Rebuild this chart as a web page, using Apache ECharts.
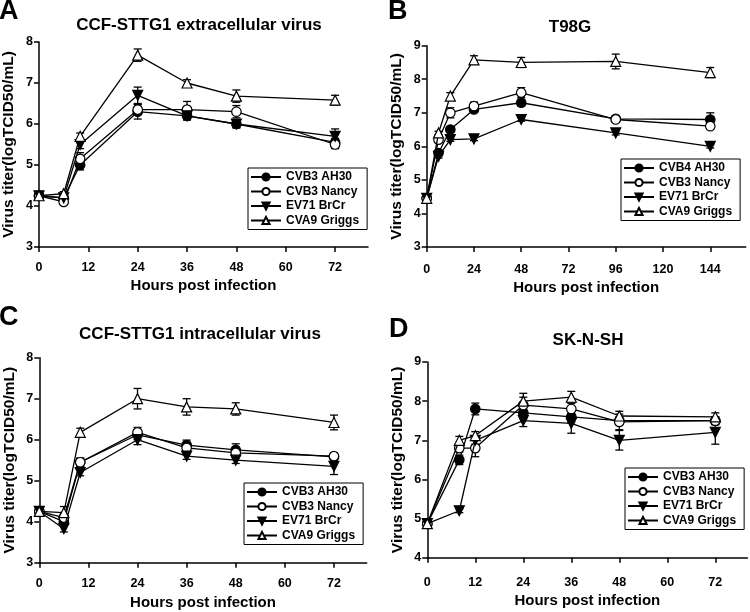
<!DOCTYPE html>
<html><head><meta charset="utf-8">
<script src="https://cdn.jsdelivr.net/npm/echarts@6/dist/echarts.min.js"></script>
<style>html,body{margin:0;padding:0;background:#fff}#c{width:750px;height:612px}</style>
</head><body><div id="c"></div>
<script>
const FONT = '"Liberation Sans", Arial, sans-serif';

// ---------- Panel A: CCF-STTG1 extracellular virus ----------
const hoursA = [0, 6, 10, 24, 36, 48, 72];
const A_AH30 = [4.25, 4.2, 5.0, 6.3, 6.2, 6.0, 5.55];
const A_AH30_sd = [0, 0.05, 0.12, 0.18, 0.1, 0.1, 0.1];
const A_Nancy = [4.25, 4.1, 5.15, 6.35, 6.35, 6.3, 5.5];
const A_Nancy_sd = [0, 0.05, 0.15, 0.12, 0.2, 0.15, 0.1];
const A_EV71 = [4.25, 4.2, 5.5, 6.7, 6.2, 6.0, 5.7];
const A_EV71_sd = [0, 0.05, 0.1, 0.2, 0.1, 0.08, 0.18];
const A_CVA9 = [4.25, 4.3, 5.7, 7.68, 7.0, 6.68, 6.58];
const A_CVA9_sd = [0, 0.05, 0.08, 0.15, 0.08, 0.15, 0.12];

// ---------- Panel B: T98G ----------
const hoursB = [0, 6, 12, 24, 48, 96, 144];
const B_AH30 = [4.45, 5.8, 6.5, 7.1, 7.3, 6.82, 6.8];
const B_AH30_sd = [0, 0.05, 0.08, 0.08, 0.1, 0.08, 0.2];
const B_Nancy = [4.45, 6.2, 7.0, 7.2, 7.6, 6.8, 6.6];
const B_Nancy_sd = [0, 0.08, 0.15, 0.12, 0.15, 0.08, 0.08];
const B_EV71 = [4.45, 5.7, 6.2, 6.22, 6.8, 6.4, 6.0];
const B_EV71_sd = [0, 0.05, 0.05, 0.05, 0.05, 0.06, 0.05];
const B_CVA9 = [4.45, 6.4, 7.5, 8.58, 8.5, 8.53, 8.2];
const B_CVA9_sd = [0, 0.05, 0.1, 0.12, 0.15, 0.22, 0.15];

// ---------- Panel C: CCF-STTG1 intracellular virus ----------
const hoursC = [0, 6, 10, 24, 36, 48, 72];
const C_AH30 = [4.25, 4.0, 5.45, 6.12, 5.87, 5.75, 5.58];
const C_AH30_sd = [0, 0.08, 0.1, 0.12, 0.12, 0.15, 0.05];
const C_Nancy = [4.25, 4.1, 5.45, 6.18, 5.8, 5.68, 5.6];
const C_Nancy_sd = [0, 0.1, 0.1, 0.12, 0.1, 0.1, 0.08];
const C_EV71 = [4.25, 3.83, 5.2, 6.0, 5.6, 5.5, 5.35];
const C_EV71_sd = [0, 0.08, 0.08, 0.12, 0.08, 0.08, 0.2];
const C_CVA9 = [4.25, 4.22, 6.18, 7.0, 6.8, 6.75, 6.42];
const C_CVA9_sd = [0, 0.15, 0.1, 0.25, 0.2, 0.15, 0.18];

// ---------- Panel D: SK-N-SH ----------
const hoursD = [0, 8, 12, 24, 36, 48, 72];
const D_AH30 = [4.87, 6.5, 7.8, 7.7, 7.6, 7.5, 7.5];
const D_AH30_sd = [0, 0.12, 0.15, 0.15, 0.15, 0.1, 0.1];
const D_Nancy = [4.87, 6.8, 6.8, 7.9, 7.8, 7.47, 7.5];
const D_Nancy_sd = [0, 0.1, 0.22, 0.2, 0.15, 0.2, 0.1];
const D_EV71 = [4.87, 5.2, 7.0, 7.5, 7.43, 7.0, 7.2];
const D_EV71_sd = [0, 0.05, 0.1, 0.15, 0.25, 0.25, 0.3];
const D_CVA9 = [4.87, 7.0, 7.12, 8.0, 8.1, 7.62, 7.6];
const D_CVA9_sd = [0, 0.1, 0.1, 0.2, 0.15, 0.12, 0.1];

// labels & ticks
const panelLetters = ['A', 'B', 'C', 'D'];
const panelTitles = ['CCF-STTG1 extracellular virus', 'T98G', 'CCF-STTG1 intracellular virus', 'SK-N-SH'];
const namesA = ['CVB3 AH30', 'CVB3 Nancy', 'EV71 BrCr', 'CVA9 Griggs'];
const namesB = ['CVB4 AH30', 'CVB3 Nancy', 'EV71 BrCr', 'CVA9 Griggs'];
const xTicks72 = [0, 12, 24, 36, 48, 60, 72];
const xTicks144 = [0, 24, 48, 72, 96, 120, 144];
const xAxisName = 'Hours post infection';
const yAxisName = 'Virus titer(logTCID50/mL)';

// marker styles (by series order)
const markerStyles = [
  { symbol: 'circle', size: 9.5, fill: '#000', rotate: 0 },
  { symbol: 'circle', size: 9.5, fill: '#fff', rotate: 0 },
  { symbol: 'triangle', size: 10, fill: '#000', rotate: 180 },
  { symbol: 'triangle', size: 10, fill: '#fff', rotate: 0 }
];

const panels = [
  { hours: hoursA, names: namesA, vals: [A_AH30, A_Nancy, A_EV71, A_CVA9], sds: [A_AH30_sd, A_Nancy_sd, A_EV71_sd, A_CVA9_sd],
    grid: { left: 38.5, top: 42, width: 329.5, height: 205 }, xmax: 80, xTicks: xTicks72, ymin: 3, ymax: 8,
    letter: { left: -1, top: -2 }, title: { left: 199, top: 17 }, legend: { left: 248, top: 168 }, lblMargin: 14, nameGap: 31 },
  { hours: hoursB, names: namesB, vals: [B_AH30, B_Nancy, B_EV71, B_CVA9], sds: [B_AH30_sd, B_Nancy_sd, B_EV71_sd, B_CVA9_sd],
    grid: { left: 426.7, top: 45.7, width: 319, height: 201.3 }, xmax: 162, xTicks: xTicks144, ymin: 3, ymax: 9,
    letter: { left: 388, top: -2 }, title: { left: 570, top: 19 }, legend: { left: 621, top: 159 }, lblMargin: 16, nameGap: 33 },
  { hours: hoursC, names: namesA, vals: [C_AH30, C_Nancy, C_EV71, C_CVA9], sds: [C_AH30_sd, C_Nancy_sd, C_EV71_sd, C_CVA9_sd],
    grid: { left: 39.3, top: 357.7, width: 327.4, height: 205 }, xmax: 80, xTicks: xTicks72, ymin: 3, ymax: 8,
    letter: { left: -1, top: 304 }, title: { left: 200, top: 326 }, legend: { left: 244, top: 483 }, lblMargin: 14, nameGap: 33 },
  { hours: hoursD, names: namesA, vals: [D_AH30, D_Nancy, D_EV71, D_CVA9], sds: [D_AH30_sd, D_Nancy_sd, D_EV71_sd, D_CVA9_sd],
    grid: { left: 427.3, top: 362, width: 320, height: 195.7 }, xmax: 80, xTicks: xTicks72, ymin: 4, ymax: 9,
    letter: { left: 389, top: 316 }, title: { left: 588, top: 332 }, legend: { left: 625, top: 468 }, lblMargin: 18, nameGap: 36 }
];

function errRender(params, api) {
  const x = api.value(0), lo = api.value(1), hi = api.value(2);
  const pLo = api.coord([x, lo]), pHi = api.coord([x, hi]);
  const w = 4;
  const st = { stroke: '#000', lineWidth: 1.3 };
  return { type: 'group', children: [
    { type: 'line', shape: { x1: pLo[0], y1: pLo[1], x2: pHi[0], y2: pHi[1] }, style: st },
    { type: 'line', shape: { x1: pHi[0] - w, y1: pHi[1], x2: pHi[0] + w, y2: pHi[1] }, style: st },
    { type: 'line', shape: { x1: pLo[0] - w, y1: pLo[1], x2: pLo[0] + w, y2: pLo[1] }, style: st }
  ]};
}

const option = { animation: false, backgroundColor: '#fff', grid: [], xAxis: [], yAxis: [], series: [], title: [], legend: [] };
const axisLine = { show: true, onZero: false, lineStyle: { color: '#000', width: 1.5 } };
const axisTick = { show: true, length: 5, lineStyle: { color: '#000', width: 1.5 } };
const lblStyle = { color: '#000', fontFamily: FONT, fontWeight: 'bold', fontSize: 12.5 };

panels.forEach((p, i) => {
  option.grid.push(Object.assign({ containLabel: false }, p.grid));
  option.xAxis.push({
    type: 'value', gridIndex: i, min: 0, max: p.xmax,
    axisLine, axisTick: Object.assign({ customValues: p.xTicks }, axisTick),
    axisLabel: Object.assign({ customValues: p.xTicks, margin: p.lblMargin }, lblStyle),
    splitLine: { show: false },
    name: xAxisName, nameLocation: 'middle', nameGap: p.nameGap,
    nameTextStyle: { color: '#000', fontFamily: FONT, fontWeight: 'bold', fontSize: 15, verticalAlign: 'top' }
  });
  option.yAxis.push({
    type: 'value', gridIndex: i, min: p.ymin, max: p.ymax, interval: 1,
    axisLine, axisTick, axisLabel: Object.assign({ margin: 6 }, lblStyle),
    splitLine: { show: false },
    name: yAxisName, nameLocation: 'middle', nameGap: 22,
    nameTextStyle: { color: '#000', fontFamily: FONT, fontWeight: 'bold', fontSize: 15.5 }
  });
  option.title.push({ text: panelLetters[i], left: p.letter.left, top: p.letter.top, padding: 0,
    textStyle: { color: '#000', fontFamily: FONT, fontWeight: 'bold', fontSize: 27 } });
  option.title.push({ text: panelTitles[i], left: p.title.left, top: p.title.top, padding: 0, textAlign: 'center',
    textStyle: { color: '#000', fontFamily: FONT, fontWeight: 'bold', fontSize: 17 } });
  option.legend.push({
    data: p.names, left: p.legend.left, top: p.legend.top, orient: 'vertical',
    borderColor: '#000', borderWidth: 1, padding: [3, 8, 3, 2], itemGap: 2.5,
    itemWidth: 30, itemHeight: 9, selectedMode: false,
    textStyle: { color: '#000', fontFamily: FONT, fontWeight: 'bold', fontSize: 12 }
  });
  p.vals.forEach((v, k) => {
    const m = markerStyles[k];
    option.series.push({
      type: 'custom', name: 'err' + i + k, xAxisIndex: i, yAxisIndex: i, z: 1, silent: true,
      renderItem: errRender, encode: { x: 0, y: [1, 2] },
      data: p.hours.map((h, j) => [h, v[j] - p.sds[k][j], v[j] + p.sds[k][j]])
    });
    option.series.push({
      type: 'line', name: p.names[k], xAxisIndex: i, yAxisIndex: i, z: 3 + k,
      data: p.hours.map((h, j) => [h, v[j]]),
      symbol: m.symbol, symbolSize: m.size, symbolRotate: m.rotate, showAllSymbol: true,
      lineStyle: { color: '#000', width: 1.3 },
      itemStyle: { color: m.fill, borderColor: '#000', borderWidth: 1.2 },
      emphasis: { disabled: true }
    });
  });
});

const chart = echarts.init(document.getElementById('c'), null, { renderer: 'canvas' });
chart.setOption(option);
</script></body></html>
